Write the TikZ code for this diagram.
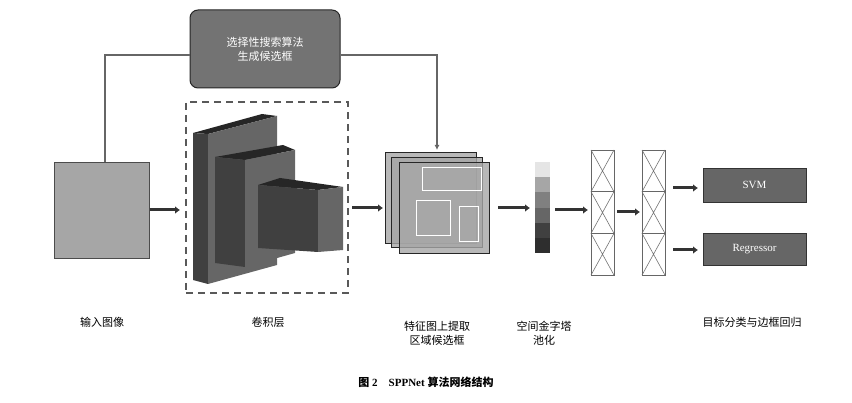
\documentclass[tikz,border=0pt]{standalone}
\usepackage{fontspec}
\setmainfont{Liberation Serif}
\newfontfamily\cjk{Noto Sans CJK SC}
\begin{document}
\begin{tikzpicture}[x=1pt,y=-1pt,
  arr/.style={line width=3pt,draw=black!80,-{Latex[length=5pt,width=8pt]}},
  thin/.style={line width=1.3pt,draw=black!60,-{Latex[length=5pt,width=5pt]}},
  lab/.style={font=\cjk\fontsize{11}{14}\selectfont,align=center},
  dbox/.style={fill=black!60,draw=black!80,line width=0.8pt,text=white,font=\fontsize{11}{13}\selectfont}]
\usetikzlibrary{arrows.meta}
\useasboundingbox (0,0) rectangle (852,403);
% top box
\node[draw=black!85,line width=1pt,fill=black!55,rounded corners=8pt,minimum width=150pt,minimum height=78pt,text=white,lab] (ss) at (265,49) {选择性搜索算法\\生成候选框};
% input
\node[draw=black!70,fill=black!35,minimum width=95pt,minimum height=96pt,inner sep=0] (in) at (102,210) {};
\coordinate (c1) at (105,55);
\draw[line width=1.3pt,black!60] (in.north -| c1) -- (c1) -- (ss.west |- c1);
\coordinate (c2) at (437,55);
\draw[thin] (ss.east |- c2) -- (c2) -- (437,150);
% conv
\node[draw=black!65,dashed,line width=1.5pt,dash pattern=on 7pt off 5pt,minimum width=162pt,minimum height=191pt] (conv) at (267,197.5) {};
\fill[black!85] (193,133)--(262,114)--(277,116)--(208,134)--cycle;
\fill[black!75] (193,133)--(208,134)--(208,284)--(193,280)--cycle;
\fill[black!60] (208,134)--(277,116)--(277,265)--(208,284)--cycle;
\fill[black!85] (215,157)--(283,145)--(295,150)--(245,160)--cycle;
\fill[black!75] (215,157)--(245,160)--(245,267)--(215,263)--cycle;
\fill[black!60] (245,160)--(295,150)--(295,253)--(245,267)--cycle;
\fill[black!85] (258,185)--(280,178)--(343,187)--(318,190)--cycle;
\fill[black!75] (258,185)--(318,190)--(318,252)--(258,248)--cycle;
\fill[black!60] (318,190)--(343,187)--(343,250)--(318,252)--cycle;
\draw[arr] (in.east |- 0,210) -- (180,210);
% feature maps
\foreach \a/\b/\c/\d in {385/152/476/243,391/157/482/247,399/162/489/253}
  \draw[black!85,fill=black!35,fill opacity=0.8,line width=0.7pt] (\a,\b) rectangle (\c,\d);
\node[minimum width=90pt,minimum height=91pt,inner sep=0] (fm) at (444,207.5) {};
\draw[white,line width=1pt] (422,168) rectangle (481,191) (416,201) rectangle (450,236) (459,207) rectangle (478,242);
\draw[arr] (352,208) -- (383,208);
% pyramid bar
\foreach \c [count=\i from 0] in {black!10,black!35,black!50,black!60,black!75,black!82}
  \fill[\c] (535,162+\i*15.2) rectangle (550,177.2+\i*15.2);
\node[minimum width=15pt,minimum height=91pt,inner sep=0] (spp) at (542.5,207.5) {};
\draw[arr] (498,208) -- (530,208);
% fc
\foreach \n/\x in {fa/591,fb/642}{
  \node[draw=black!60,line width=0.8pt,minimum width=23pt,minimum height=125pt,inner sep=0] (\n) at (\x+11.5,212.5) {};
  \foreach \k in {0,1,2}
    \draw[black!55,line width=0.6pt] (\x,150+\k*41.7) -- (\x+23,191.7+\k*41.7) (\x+23,150+\k*41.7) -- (\x,191.7+\k*41.7);
  \draw[black!60,line width=0.8pt] (\x,191.7) -- (\x+23,191.7) (\x,233.4) -- (\x+23,233.4);
}
\draw[arr] (555,210) -- (588,210);
\draw[arr] (617,212) -- (640,212);
\node[dbox,minimum width=103pt,minimum height=34pt] (svm) at (754.5,185) {SVM};
\node[dbox,minimum width=103pt,minimum height=32pt] (reg) at (754.5,249) {Regressor};
\draw[arr] (673,188) -- (698,188);
\draw[arr] (673,250) -- (698,250);
% labels
\node[lab] at (102,322) {输入图像};
\node[lab] at (268,322) {卷积层};
\node[lab] at (437,333) {特征图上提取\\区域候选框};
\node[lab] at (544,333) {空间金字塔\\池化};
\node[lab] at (752,322) {目标分类与边框回归};
\node[font=\bfseries\fontsize{11}{13}\selectfont] at (426,382) {{\cjk 图}\ 2\quad SPPNet {\cjk 算法网络结构}};
\end{tikzpicture}
\end{document}
